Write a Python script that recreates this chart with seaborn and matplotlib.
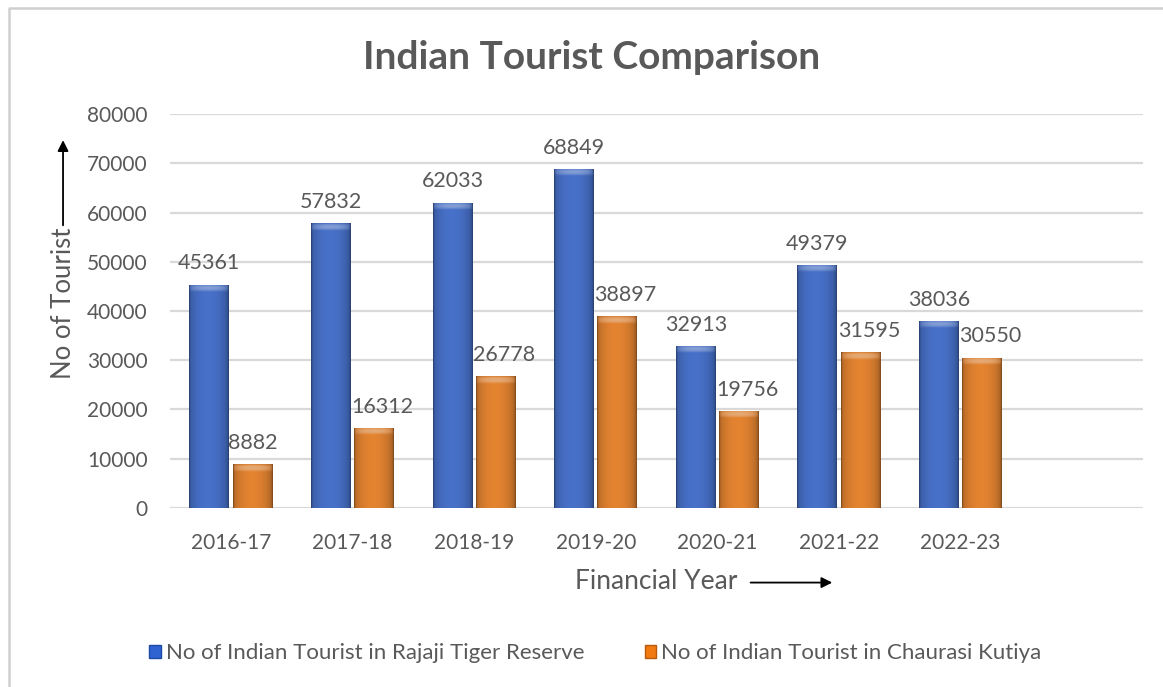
import numpy as np
import pandas as pd
import matplotlib
matplotlib.use("Agg")
import matplotlib.pyplot as plt
from matplotlib.colors import to_rgb
from matplotlib.lines import Line2D
from matplotlib.patches import FancyArrowPatch
import seaborn as sns

years = ["2016-17", "2017-18", "2018-19", "2019-20", "2020-21", "2021-22", "2022-23"]
rajaji = [45361, 57832, 62033, 68849, 32913, 49379, 38036]
chaurasi = [8882, 16312, 26778, 38897, 19756, 31595, 30550]
series_names = ["No of Indian Tourist in Rajaji Tiger Reserve",
                "No of Indian Tourist in Chaurasi Kutiya"]
y_ticks = [0, 10000, 20000, 30000, 40000, 50000, 60000, 70000, 80000]

BLUE = "#2F63D2"
ORANGE = "#F37A12"
TEXT = "#595959"
GRID = "#D9D9D9"

df = pd.DataFrame({
    "year": years * 2,
    "tourists": rajaji + chaurasi,
    "series": [series_names[0]] * len(years) + [series_names[1]] * len(years),
})

sns.set_theme(style="white")
plt.rcParams["font.family"] = ["Lato", "DejaVu Sans"]

fig = plt.figure(figsize=(11.63, 6.87), dpi=100)
ax = fig.add_axes([0.1462, 0.2606, 0.8366, 0.5734])

sns.barplot(data=df, x="year", y="tourists", hue="series", order=years,
            hue_order=series_names, palette=[BLUE, ORANGE],
            width=0.71, gap=0.08, errorbar=None, ax=ax, zorder=3,
            linewidth=0)


def shade(base, h_data, cap_data, rows):
    """Cylinder-like shading: dark rims, brighter middle, light top cap."""
    base_rgb = np.array(to_rgb(base))
    cols = 64
    u = np.linspace(0, 1, cols)
    prof = 0.8 + 0.26 * np.sin(np.pi * np.clip(u * 1.05, 0, 1)) ** 0.6
    prof[:2] *= 0.78
    prof[-2:] *= 0.78
    body = np.clip(base_rgb[None, :] * prof[:, None], 0, 1)
    img = np.ones((rows, cols, 4))
    img[:, :, :3] = body[None, :, :]
    ys = np.linspace(h_data, 0, rows)
    light = np.clip(base_rgb + (1 - base_rgb) * 0.35, 0, 1)
    t = np.clip((ys - (h_data - cap_data)) / cap_data, 0, 1)
    bump = np.sin(np.pi * t) ** 0.8
    for i in np.where(ys > (h_data - cap_data))[0]:
        mix = bump[i] * np.sin(np.pi * u) ** 0.5
        img[i, :, :3] = body * (1 - mix[:, None]) + light[None, :] * mix[:, None]
    img[0, :, :3] *= 0.8
    return img


for patch in list(ax.patches):
    h = patch.get_height()
    if not np.isfinite(h) or h <= 0:
        continue
    x0 = patch.get_x()
    w = patch.get_width()
    rows = max(200, int(h / 40))
    img = shade(patch.get_facecolor(), h, 1500, rows)
    im = ax.imshow(img, extent=[x0, x0 + w, 0, h], aspect="auto",
                   interpolation="bilinear", zorder=4)
    im.set_clip_path(patch)

LABEL_PAD = 8
for k, cont in enumerate(ax.containers):
    labels = ax.bar_label(cont, fmt="%d", padding=LABEL_PAD, color=TEXT,
                          fontsize=15.5)
    for t in labels:
        t.set_zorder(10)
        # nudge wide labels of the second series clear of the neighbouring bar
        if k == 1 and len(t.get_text()) >= 5:
            t.xyann = (6, LABEL_PAD)

ax.set_xlim(-0.5, 7.5)
ax.set_ylim(0, 80000)
ax.set_yticks(y_ticks)
ax.set_yticklabels([str(v) for v in y_ticks])
ax.yaxis.grid(True, color=GRID, linewidth=1.6, zorder=0)
ax.set_axisbelow(True)
for s in ax.spines.values():
    s.set_visible(False)
ax.tick_params(axis="y", length=0, pad=16, labelsize=15, labelcolor=TEXT)
ax.tick_params(axis="x", length=0, pad=18, labelsize=15, labelcolor=TEXT)
ax.set_xlabel("")
ax.set_ylabel("")

# legend below the plot
handles = [plt.Rectangle((0, 0), 1, 1, facecolor=BLUE, edgecolor="#1E4AA5"),
           plt.Rectangle((0, 0), 1, 1, facecolor=ORANGE, edgecolor="#B85A0A")]
ax.legend().remove()
fig.legend(handles, series_names, loc="center", bbox_to_anchor=(0.512, 0.049),
           ncol=2, frameon=False, fontsize=16, labelcolor=TEXT,
           handlelength=0.5, handleheight=0.5, handletextpad=0.25,
           columnspacing=2.7)

# title and axis captions with direction arrows
fig.text(0.509, 0.917, "Indian Tourist Comparison", ha="center", va="center",
         fontsize=28, fontweight="bold", color=TEXT)
fig.text(0.0542, 0.558, "No of Tourist", rotation=90, ha="center", va="center",
         fontsize=18.5, color=TEXT)
fig.add_artist(FancyArrowPatch(
    (0.0542, 0.668), (0.0542, 0.800), transform=fig.transFigure,
    arrowstyle="-|>", mutation_scale=16, color="black", linewidth=1.3))
fig.text(0.564, 0.153, "Financial Year", ha="center", va="center",
         fontsize=19, color=TEXT)
fig.add_artist(FancyArrowPatch(
    (0.643, 0.152), (0.718, 0.152), transform=fig.transFigure,
    arrowstyle="-|>", mutation_scale=16, color="black", linewidth=1.3))

# outer frame (left and top edges)
fx = 9 / 1163
fy = 1 - 8 / 687
fig.add_artist(Line2D([fx, fx, 1.0], [0.0, fy, fy], transform=fig.transFigure,
                      color="#D0D0D0", linewidth=1.8))

fig.savefig("out.png", dpi=100, facecolor="white")
